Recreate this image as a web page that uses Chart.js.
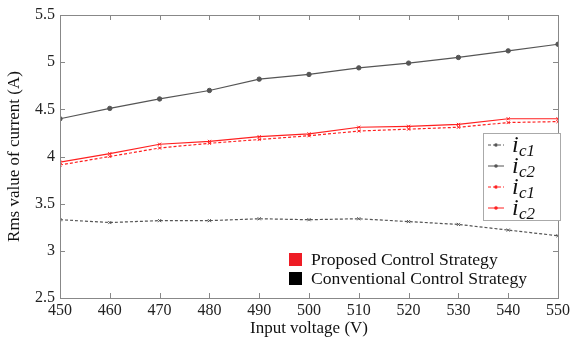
<!DOCTYPE html>
<html>
<head>
<meta charset="utf-8">
<script src="https://cdn.jsdelivr.net/npm/chart.js@4"></script>
<style>
  body { margin: 0; background: #fff; }
  #wrap { width: 575px; height: 340px; }
</style>
</head>
<body>
<div id="wrap"><canvas id="chart" width="575" height="340"></canvas></div>
<script>
const voltages = [450, 460, 470, 480, 490, 500, 510, 520, 530, 540, 550];
const convIc1 = [3.33, 3.30, 3.32, 3.32, 3.34, 3.33, 3.34, 3.31, 3.28, 3.22, 3.16];
const convIc2 = [4.40, 4.51, 4.61, 4.70, 4.82, 4.87, 4.94, 4.99, 5.05, 5.12, 5.19];
const propIc1 = [3.91, 4.00, 4.09, 4.14, 4.18, 4.22, 4.27, 4.29, 4.31, 4.36, 4.37];
const propIc2 = [3.94, 4.03, 4.13, 4.16, 4.21, 4.24, 4.31, 4.32, 4.34, 4.40, 4.40];
const yTicks = [2.5, 3, 3.5, 4, 4.5, 5, 5.5];

const serif = "Liberation Serif, DejaVu Serif, serif";
const black = "#555555";
const red = "#ff2020";

function pts(arr) {
  return arr.map((v, i) => ({ x: voltages[i], y: v }));
}

// frame, inward ticks and the two legends
const framePlugin = {
  id: "frame",
  afterDraw(chart) {
    const ctx = chart.ctx;
    const a = chart.chartArea;
    const xs = chart.scales.x, ys = chart.scales.y;
    ctx.save();
    ctx.strokeStyle = "#888";
    ctx.lineWidth = 1;
    ctx.strokeRect(a.left + 0.5, a.top + 0.5, a.right - a.left, a.bottom - a.top);
    ctx.beginPath();
    voltages.forEach(v => {
      const x = Math.round(xs.getPixelForValue(v)) + 0.5;
      ctx.moveTo(x, a.bottom); ctx.lineTo(x, a.bottom - 5);
      ctx.moveTo(x, a.top); ctx.lineTo(x, a.top + 5);
    });
    yTicks.forEach(v => {
      const y = Math.round(ys.getPixelForValue(v)) + 0.5;
      ctx.moveTo(a.left, y); ctx.lineTo(a.left + 5, y);
      ctx.moveTo(a.right, y); ctx.lineTo(a.right - 5, y);
    });
    ctx.stroke();

    // series legend
    const bx = 483, by = 133, bw = 77, bh = 87;
    ctx.fillStyle = "#fff";
    ctx.fillRect(bx, by, bw, bh);
    ctx.strokeStyle = "#aaa";
    ctx.strokeRect(bx + 0.5, by + 0.5, bw, bh);
    const entries = [
      { c: black, dash: [3, 2], sub: "c1" },
      { c: black, dash: [], sub: "c2" },
      { c: red, dash: [3, 2], sub: "c1" },
      { c: red, dash: [], sub: "c2" }
    ];
    entries.forEach((e, i) => {
      const y = by + 12 + i * 21;
      ctx.strokeStyle = e.c;
      ctx.setLineDash(e.dash);
      ctx.beginPath();
      ctx.moveTo(bx + 5, y); ctx.lineTo(bx + 21, y);
      ctx.stroke();
      ctx.setLineDash([]);
      ctx.fillStyle = e.c;
      ctx.beginPath();
      ctx.arc(bx + 13, y, 1.8, 0, Math.PI * 2);
      ctx.fill();
      ctx.fillStyle = "#111";
      ctx.textBaseline = "alphabetic";
      ctx.textAlign = "left";
      ctx.font = "italic 24px " + serif;
      ctx.fillText("i", bx + 29, y + 7);
      ctx.font = "italic 17px " + serif;
      ctx.fillText(e.sub, bx + 36, y + 11);
    });

    // strategy legend
    const sq = [
      { c: "#ee1c25", t: "Proposed Control Strategy", y: 253 },
      { c: "#000000", t: "Conventional Control Strategy", y: 272 }
    ];
    ctx.font = "17.6px " + serif;
    sq.forEach(s => {
      ctx.fillStyle = s.c;
      ctx.fillRect(289, s.y, 13, 13);
      ctx.fillStyle = "#111";
      ctx.fillText(s.t, 311, s.y + 12);
    });
    ctx.restore();
  }
};

const lineDs = (data, color, dash, style) => ({
  data: pts(data),
  borderColor: color,
  backgroundColor: color,
  borderWidth: 1.2,
  borderDash: dash,
  pointStyle: style,
  pointRadius: 2.2,
  pointBorderWidth: 1,
  tension: 0
});

new Chart(document.getElementById("chart"), {
  type: "line",
  data: {
    datasets: [
      lineDs(convIc1, black, [3, 2], "crossRot"),
      lineDs(convIc2, black, [], "circle"),
      lineDs(propIc1, red, [3, 2], "crossRot"),
      lineDs(propIc2, red, [], "crossRot")
    ]
  },
  options: {
    responsive: false,
    animation: false,
    layout: { padding: { top: 15, right: 15, left: 0, bottom: 0 } },
    plugins: { legend: { display: false }, tooltip: { enabled: false } },
    scales: {
      x: {
        type: "linear",
        min: 450, max: 550,
        afterBuildTicks: s => { s.ticks = voltages.map(v => ({ value: v })); },
        afterFit: s => { s.height = 42; },
        grid: { display: false, drawTicks: false },
        border: { display: false },
        ticks: { color: "#222", font: { family: serif, size: 16, lineHeight: 1 }, padding: 5, maxRotation: 0 },
        title: { display: true, text: "Input voltage (V)", color: "#111", font: { family: serif, size: 17, lineHeight: 1 }, padding: { top: 0, bottom: 3 } }
      },
      y: {
        min: 2.5, max: 5.5,
        afterBuildTicks: s => { s.ticks = yTicks.map(v => ({ value: v })); },
        afterFit: s => { s.width = 60; },
        grid: { display: false, drawTicks: false },
        border: { display: false },
        ticks: { color: "#222", font: { family: serif, size: 16 }, padding: 5, callback: v => String(v) },
        title: { display: true, text: "Rms value of current (A)", color: "#111", font: { family: serif, size: 17 }, padding: { bottom: 2 } }
      }
    }
  },
  plugins: [framePlugin]
});
</script>
</body>
</html>
